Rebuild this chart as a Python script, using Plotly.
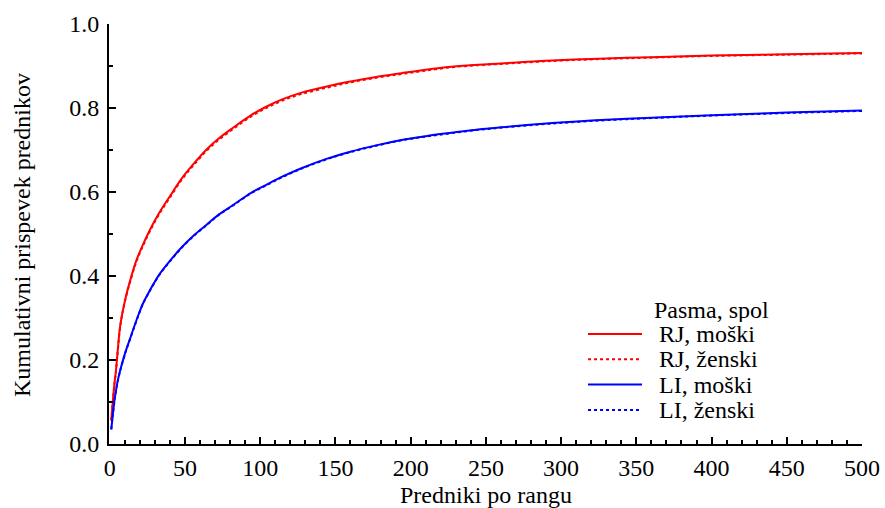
import plotly.graph_objects as go

# Rank of ancestor (x) and cumulative contribution of the top-ranked ancestors (y)
rank = [1, 2, 3, 4, 5, 7, 10, 14, 18, 22, 27, 33, 40, 48, 56, 64, 72, 82, 94, 104,
        115, 127, 145, 160, 177, 194, 210, 227, 245, 260, 294, 330, 360, 400, 450, 500]

rj_moski = [0.057, 0.100, 0.140, 0.170, 0.210, 0.283, 0.340, 0.395, 0.440, 0.474,
            0.512, 0.551, 0.590, 0.633, 0.668, 0.700, 0.726, 0.753, 0.783, 0.803,
            0.821, 0.836, 0.852, 0.863, 0.874, 0.883, 0.891, 0.898, 0.903, 0.906,
            0.913, 0.918, 0.921, 0.925, 0.928, 0.931]
rj_zenski = [0.056, 0.099, 0.139, 0.169, 0.208, 0.281, 0.338, 0.392, 0.437, 0.471,
             0.509, 0.548, 0.587, 0.630, 0.665, 0.697, 0.723, 0.750, 0.780, 0.800,
             0.818, 0.833, 0.849, 0.861, 0.872, 0.881, 0.889, 0.897, 0.902, 0.905,
             0.912, 0.917, 0.920, 0.924, 0.927, 0.930]
li_moski = [0.035, 0.068, 0.100, 0.124, 0.145, 0.176, 0.214, 0.256, 0.297, 0.334,
            0.368, 0.404, 0.436, 0.469, 0.497, 0.521, 0.545, 0.569, 0.598, 0.617,
            0.637, 0.656, 0.680, 0.696, 0.711, 0.724, 0.733, 0.741, 0.749, 0.754,
            0.764, 0.772, 0.777, 0.783, 0.789, 0.794]
li_zenski = [0.035, 0.068, 0.099, 0.123, 0.144, 0.175, 0.213, 0.255, 0.296, 0.333,
             0.367, 0.403, 0.435, 0.468, 0.496, 0.520, 0.544, 0.568, 0.597, 0.616,
             0.636, 0.655, 0.679, 0.695, 0.710, 0.723, 0.732, 0.740, 0.748, 0.753,
             0.763, 0.771, 0.776, 0.782, 0.788, 0.793]

series = [
    ("RJ, moški", rj_moski, "#ff0000", "solid"),
    ("RJ, ženski", rj_zenski, "#ff0000", "dot"),
    ("LI, moški", li_moski, "#0000ff", "solid"),
    ("LI, ženski", li_zenski, "#0000ff", "dot"),
]

FONT = "Liberation Serif"
TXT = dict(family=FONT, size=24, color="black")

fig = go.Figure()
for name, vals, color, dash in series:
    fig.add_trace(go.Scatter(
        x=rank, y=vals, mode="lines", name=name, showlegend=False,
        line=dict(color=color, width=2, dash=dash, shape="spline", smoothing=1.0),
    ))

axis_common = dict(
    showgrid=False, zeroline=False, showline=True, linecolor="black", linewidth=2,
    ticks="inside", ticklen=7, tickwidth=1.5, tickcolor="black", mirror=False,
    tickfont=TXT, automargin=False,
)

fig.update_xaxes(
    range=[-0.5, 500], tick0=0, dtick=50,
    minor=dict(ticks="inside", ticklen=4, tickwidth=1.5, tickcolor="black", dtick=10),
    ticklabelstandoff=1,
    **axis_common,
)
fig.update_yaxes(
    range=[0, 1.0], tick0=0, dtick=0.2, tickformat=".1f",
    minor=dict(ticks="inside", ticklen=4, tickwidth=1.5, tickcolor="black", dtick=0.1),
    ticklabelstandoff=3,
    **axis_common,
)

px_left, px_right, px_top, px_bottom = 109, 862, 24, 444


def to_paper(px, py):
    return ((px - px_left) / (px_right - px_left), (px_bottom - py) / (px_bottom - px_top))


shapes = []
annotations = []

# Axis titles
ax_x, ax_y = to_paper(486, 495)
annotations.append(dict(x=ax_x, y=ax_y, xref="paper", yref="paper", text="Predniki po rangu",
                        showarrow=False, xanchor="center", yanchor="middle", font=TXT))
ay_x, ay_y = to_paper(22, 235)
annotations.append(dict(x=ay_x, y=ay_y, xref="paper", yref="paper",
                        text="Kumulativni prispevek prednikov", textangle=-90,
                        showarrow=False, xanchor="center", yanchor="middle", font=TXT))

# Legend drawn as line samples and labels inside the plot area
leg_x0, leg_x1, text_x = 588, 642, 657
tx, ty = to_paper(652, 310)
annotations.append(dict(x=tx, y=ty, xref="paper", yref="paper", text="Pasma, spol",
                        showarrow=False, xanchor="left", yanchor="middle", font=TXT,
                        height=24))
for i, (name, _, color, dash) in enumerate(series):
    py = 334 + i * 25.3
    x0, y0 = to_paper(leg_x0, py)
    x1, _ = to_paper(leg_x1, py)
    shapes.append(dict(type="line", xref="paper", yref="paper", x0=x0, x1=x1, y0=y0, y1=y0,
                       line=dict(color=color, width=2, dash=dash)))
    lx, _ = to_paper(text_x, py)
    annotations.append(dict(x=lx, y=y0, xref="paper", yref="paper", text=name,
                            showarrow=False, xanchor="left", yanchor="middle", font=TXT,
                            height=24))

fig.update_layout(
    template="none",
    width=885, height=508,
    margin=dict(l=109, r=23, t=24, b=64, autoexpand=False),
    paper_bgcolor="white", plot_bgcolor="white",
    font=TXT,
    shapes=shapes, annotations=annotations,
    showlegend=False,
)

fig.write_html("out.html")
